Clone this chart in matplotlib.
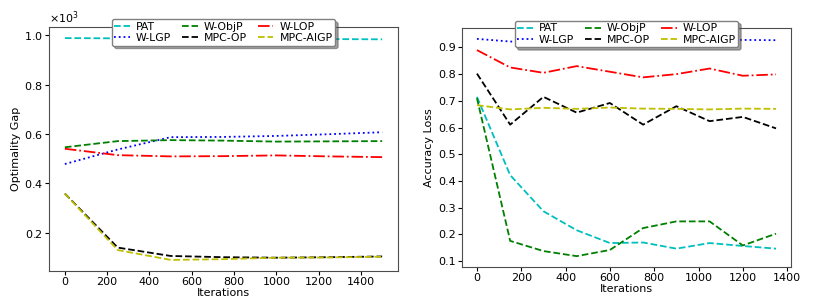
import numpy as np
import matplotlib
matplotlib.use("Agg")
import matplotlib.pyplot as plt

# left panel: optimality gap (x1e3)
iters_gap = [0, 250, 500, 750, 1000, 1250, 1500]
gap_pat = [989, 988, 987, 987, 986, 985, 984]
gap_wlgp = [478, 537, 587, 588, 592, 599, 607]
gap_wobjp = [546, 571, 575, 573, 569, 570, 571]
gap_wlop = [540, 514, 509, 510, 513, 509, 506]
gap_mpcop = [358, 139, 105, 100, 98, 100, 103]
gap_mpcaigp = [358, 129, 89, 92, 98, 99, 102]

# right panel: accuracy loss
iters_acc = [0, 150, 300, 450, 600, 750, 900, 1050, 1200, 1350]
acc_pat = [0.715, 0.422, 0.287, 0.216, 0.168, 0.170, 0.147, 0.168, 0.157, 0.147]
acc_wlgp = [0.932, 0.922, 0.918, 0.920, 0.923, 0.925, 0.927, 0.929, 0.928, 0.927]
acc_wobjp = [0.710, 0.176, 0.138, 0.119, 0.142, 0.224, 0.249, 0.249, 0.159, 0.203]
acc_wlop = [0.890, 0.825, 0.805, 0.830, 0.809, 0.788, 0.800, 0.821, 0.794, 0.799]
acc_mpcop = [0.802, 0.611, 0.715, 0.656, 0.692, 0.611, 0.680, 0.624, 0.640, 0.597]
acc_mpcaigp = [0.684, 0.668, 0.674, 0.670, 0.675, 0.671, 0.670, 0.668, 0.671, 0.670]

labels = ['PAT', 'W-LGP', 'W-ObjP', 'MPC-OP', 'W-LOP', 'MPC-AIGP']
styles = [('c', '--'), ('b', ':'), ('g', '--'), ('k', '--'), ('r', '-.'), ('y', '--')]

plt.rcParams['font.size'] = 8
plt.rcParams['lines.linewidth'] = 1.3

fig = plt.figure(figsize=(8.17, 3.08), dpi=100)
ax1 = fig.add_axes([49 / 817, 1 - 271 / 308, 349 / 817, 244 / 308])
ax2 = fig.add_axes([462 / 817, 1 - 267 / 308, 329 / 817, 239 / 308])

left_series = [gap_pat, gap_wlgp, gap_wobjp, gap_mpcop, gap_wlop, gap_mpcaigp]
right_series = [acc_pat, acc_wlgp, acc_wobjp, acc_mpcop, acc_wlop, acc_mpcaigp]

for lab, (col, ls), ys in zip(labels, styles, left_series):
    ax1.plot(iters_gap, ys, color=col, linestyle=ls, label=lab)
for lab, (col, ls), ys in zip(labels, styles, right_series):
    ax2.plot(iters_acc, ys, color=col, linestyle=ls, label=lab)

leg_kw = dict(ncol=3, loc='upper center', shadow=True, fontsize=7.8,
              handlelength=1.45, handletextpad=0.55, columnspacing=1.0,
              borderpad=0.25, labelspacing=0.1, edgecolor='0.5')

ax1.ticklabel_format(axis='y', style='sci', scilimits=(0, 0), useMathText=True)
ax1.set_xlabel('Iterations')
ax1.set_ylabel('Optimality Gap')
ax1.set_xticks([0, 200, 400, 600, 800, 1000, 1200, 1400])
ax1.legend(bbox_to_anchor=(0.5, 1.054), **leg_kw)
ax1.xaxis.set_label_coords(0.5, -0.07)
ax1.yaxis.set_label_coords(-0.08, 0.5)

ax2.set_xlabel('Iterations')
ax2.set_ylabel('Accuracy Loss')
ax2.set_xticks([0, 200, 400, 600, 800, 1000, 1200, 1400])
ax2.legend(bbox_to_anchor=(0.5, 1.053), **leg_kw)
ax2.xaxis.set_label_coords(0.5, -0.07)
ax2.yaxis.set_label_coords(-0.085, 0.5)

for ax in (ax1, ax2):
    ax.tick_params(labelsize=8, length=3, pad=1.5)
    for sp in ax.spines.values():
        sp.set_color('0.3')

fig.savefig('out.png', dpi=100)
